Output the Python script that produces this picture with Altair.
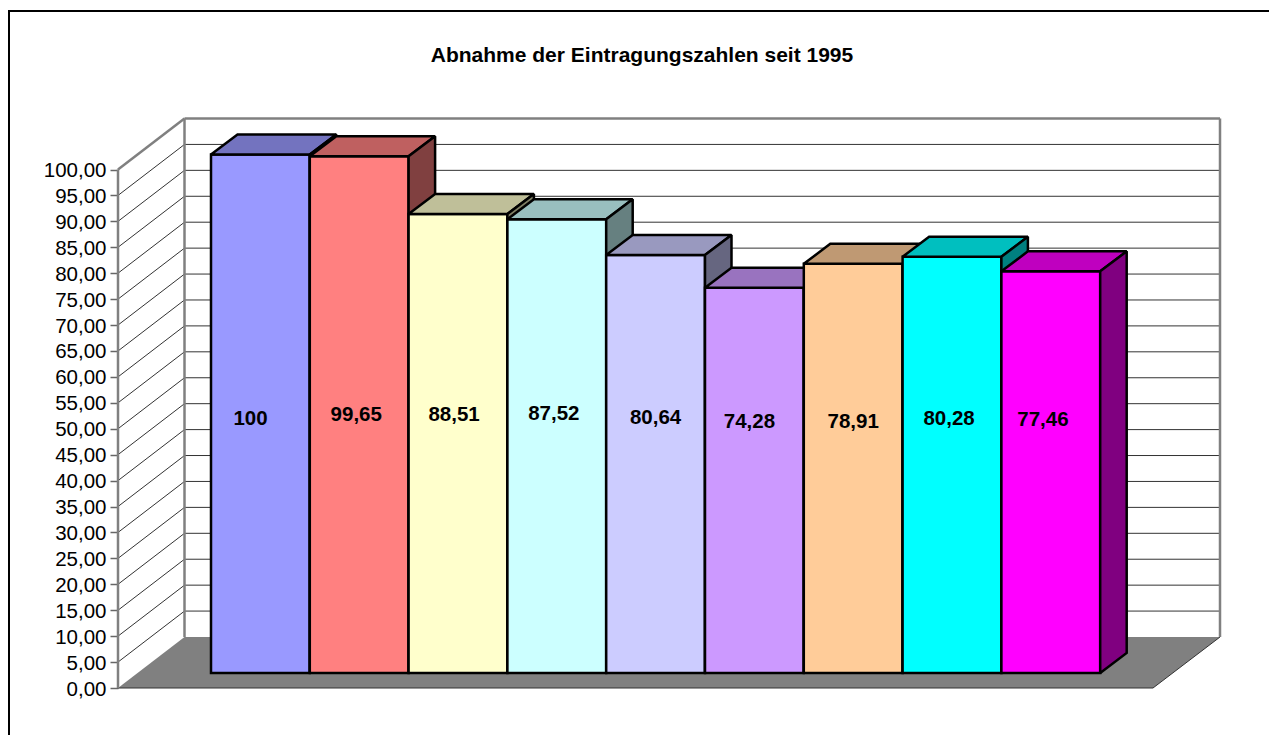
import altair as alt
import pandas as pd

# ---- data ----
title_text = "Abnahme der Eintragungszahlen seit 1995"
values = [100, 99.65, 88.51, 87.52, 80.64, 74.28, 78.91, 80.28, 77.46]
labels = ["100", "99,65", "88,51", "87,52", "80,64", "74,28", "78,91", "80,28", "77,46"]
tick_values = list(range(0, 105, 5))

# ---- styles ----
front_colors = ["#9999FF", "#FF8080", "#FFFFCC", "#CCFFFF", "#CCCCFF",
                "#CC99FF", "#FFCC99", "#00FFFF", "#FF00FF"]
FONT = "Liberation Sans"

# ---- pseudo-3D layout, expressed in scale units (1 x unit = one bar) ----
W, H = 1261, 727
PX_PER_BAR = 98.8
PX_PER_VAL = 5.185
def ux(px):
    return (px - 211) / PX_PER_BAR
def vy(px):
    return (688 - px) / PX_PER_VAL
X_DOMAIN = [ux(8), ux(8 + W)]
Y_DOMAIN = [vy(8 + H), vy(8)]
AXIS_U, BACK_U = ux(118), ux(184.5)
FLOOR_RIGHT_U, RIGHT_U = ux(1153), ux(1220)
WALL_DV = 51 / PX_PER_VAL
BASE = 15 / PX_PER_VAL
BAR_DU = 26.5 / PX_PER_BAR
BAR_DV = 20 / PX_PER_VAL
# small nudges of the value labels away from the bar's centre (bar units, value units)
label_nudge_x = [-0.10, -0.03, -0.04, -0.03, 0.0, -0.05, 0.0, -0.03, -0.08]
label_level = [51.9, 52.7, 52.7, 52.9, 52.1, 51.3, 51.3, 51.9, 51.7]

def shade(hex_color, f):
    r, g, b = [int(hex_color[i:i + 2], 16) for i in (1, 3, 5)]
    return "#%02X%02X%02X" % (round(r * f), round(g * f), round(b * f))

# ---- polygons (painter's order) ----
rows = []
def poly(pid, fill, xs, lows, highs):
    for x, lo, hi in zip(xs, lows, highs):
        rows.append(dict(pid=pid, fill=fill, x=x, lo=lo, y=hi))

for i, (v, c) in enumerate(zip(values, front_colors)):
    b, t = BASE, BASE + v
    l, r = i, i + 1
    poly(f"{i:02d}a", c, [l, r], [b, b], [t, t])
    poly(f"{i:02d}b", shade(c, 0.75), [l, l + BAR_DU, r, r + BAR_DU],
         [t, t, t, t + BAR_DV], [t, t + BAR_DV, t + BAR_DV, t + BAR_DV])
    poly(f"{i:02d}c", shade(c, 0.5), [r, r + BAR_DU], [b, b + BAR_DV], [t, t + BAR_DV])
bars_df = pd.DataFrame(rows)

floor_df = pd.DataFrame(dict(
    x=[AXIS_U, BACK_U, FLOOR_RIGHT_U, RIGHT_U],
    lo=[0, 0, 0, WALL_DV],
    y=[0, WALL_DV, WALL_DV, WALL_DV],
))

# ---- wall lines ----
thin, thick = [], []
def seg(store, pid, x0, y0, x1, y1):
    store.append(dict(pid=pid, x=x0, y=y0))
    store.append(dict(pid=pid, x=x1, y=y1))

for t in tick_values:
    if 0 < t < 100:
        seg(thin, f"d{t}", AXIS_U, t, BACK_U, t + WALL_DV)
        seg(thin, f"h{t}", BACK_U, t + WALL_DV, RIGHT_U, t + WALL_DV)
seg(thin, "floor-front", AXIS_U, 0, FLOOR_RIGHT_U, 0)
seg(thin, "floor-right", FLOOR_RIGHT_U, 0, RIGHT_U, WALL_DV)
seg(thick, "top-diag", AXIS_U, 100, BACK_U, 100 + WALL_DV)
seg(thick, "top-back", BACK_U, 100 + WALL_DV, RIGHT_U, 100 + WALL_DV)
seg(thick, "back-left", BACK_U, WALL_DV, BACK_U, 100 + WALL_DV)
seg(thick, "back-right", RIGHT_U, WALL_DV, RIGHT_U, 100 + WALL_DV)
seg(thick, "axis", AXIS_U, 0, AXIS_U, 100)

x_scale = alt.Scale(domain=X_DOMAIN, nice=False, zero=False)
y_scale = alt.Scale(domain=Y_DOMAIN, nice=False, zero=False)
y_axis = alt.Axis(
    values=tick_values, offset=-110, domain=False, grid=False, title=None,
    tickSize=8, tickWidth=1.5, tickColor="#666666",
    labelFont=FONT, labelFontSize=20.5, labelColor="#000000", labelPadding=4, labelOffset=1,
    labelExpr="replace(format(datum.value, '.2f'), '.', ',')",
)
X = alt.X("x:Q", scale=x_scale, axis=None)
Y = alt.Y("y:Q", scale=y_scale, axis=y_axis)

floor = alt.Chart(floor_df).mark_area(color="#808080").encode(x=X, y=Y, y2="lo:Q")

thin_lines = alt.Chart(pd.DataFrame(thin)).mark_line(color="#333333", strokeWidth=1).encode(
    x=X, y=Y, detail="pid:N")
thick_lines = alt.Chart(pd.DataFrame(thick)).mark_line(color="#808080", strokeWidth=2.5).encode(
    x=X, y=Y, detail="pid:N")

bars = alt.Chart(bars_df).mark_area(
    stroke="#000000", strokeWidth=2.5, strokeJoin="miter", strokeMiterLimit=2
).encode(
    x=X, y=Y, y2="lo:Q",
    fill=alt.Fill("fill:N", scale=None),
    detail="pid:N",
)

label_df = pd.DataFrame(dict(
    x=[i + 0.5 + n for i, n in enumerate(label_nudge_x)],
    y=label_level,
    label=labels,
))
value_labels = alt.Chart(label_df).mark_text(
    font=FONT, fontSize=20.5, fontWeight="bold", color="#000000", align="center", baseline="middle"
).encode(x=X, y=Y, text="label:N")

title_mark = alt.Chart(pd.DataFrame(dict(t=[title_text]))).mark_text(
    font=FONT, fontSize=21, fontWeight="bold", color="#000000", align="center", baseline="middle"
).encode(x=alt.value(634), y=alt.value(48), text="t:N")

border_top = alt.Chart(pd.DataFrame(dict(a=[0]))).mark_rule(color="#000000", strokeWidth=2).encode(
    x=alt.value(0), x2=alt.value(W), y=alt.value(3))
border_left = alt.Chart(pd.DataFrame(dict(a=[0]))).mark_rule(color="#000000", strokeWidth=2).encode(
    x=alt.value(1), y=alt.value(3), y2=alt.value(H))

chart = alt.layer(
    border_top, border_left, floor, thin_lines, thick_lines, bars, value_labels, title_mark
).properties(
    width=W, height=H, padding=0, background="#FFFFFF",
    autosize=alt.AutoSizeParams(type="none"),
).configure_view(stroke=None)

chart.save("out.html", embed_options={"renderer": "svg", "actions": False})
